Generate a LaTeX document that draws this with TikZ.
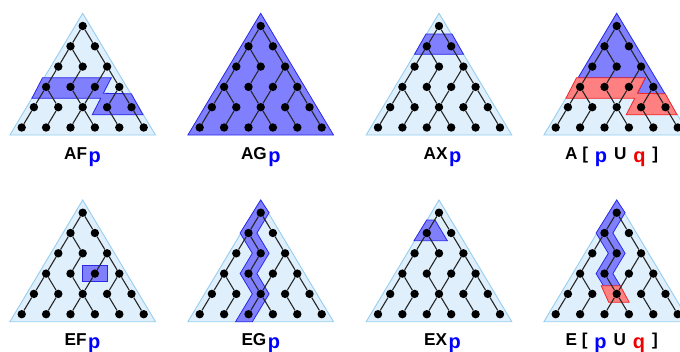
\documentclass[tikz,border=0pt]{standalone}
\usepackage{fontspec}
\setmainfont{Liberation Sans}
\usepackage{xcolor}

\definecolor{trifill}{RGB}{223,240,252}
\definecolor{triline}{RGB}{150,205,240}
\definecolor{pfill}{RGB}{128,128,255}
\definecolor{pline}{RGB}{40,40,230}
\definecolor{qfill}{RGB}{255,128,128}
\definecolor{qline}{RGB}{240,40,40}
\definecolor{pblue}{RGB}{0,0,255}
\definecolor{qred}{RGB}{240,0,0}

\newcommand{\pp}{{\color{pblue}\fontsize{20}{20}\selectfont\raisebox{-2.8pt}{p}}}
\newcommand{\qq}{{\color{qred}\fontsize{20}{20}\selectfont\raisebox{-2.8pt}{q}}}

\newcommand{\ctree}[1]{%
  \foreach \rw in {0,...,5}{
    \foreach \ix in {0,...,\rw}{
      \node[tdot] (#1-\rw-\ix) at ({(2*\ix-\rw)*12.2},{12.7+\rw*20.3}) {};
    }
  }
  \foreach \a/\b in {0-0/1-0,0-0/1-1,1-0/2-0,1-0/2-1,1-1/2-2,2-0/3-0,2-1/3-1,
      2-2/3-2,2-2/3-3,3-0/4-0,3-0/4-1,3-1/4-2,3-2/4-2,3-3/4-3,3-3/4-4,
      4-0/5-0,4-1/5-1,4-2/5-2,4-2/5-3,4-3/5-4,4-4/5-5}{
    \draw[tlink] (#1-\a) -- (#1-\b);
  }
}

\begin{document}
\begin{tikzpicture}[x=1pt, y=-1pt,
  tdot/.style={circle, fill=black, inner sep=0pt, minimum size=8.4pt},
  tlink/.style={line width=1.1pt, black!85},
  tri/.style={fill=trifill, draw=triline, line width=0.9pt},
  preg/.style={fill=pfill, draw=pline, line width=0.8pt},
  qreg/.style={fill=qfill, draw=qline, line width=0.8pt},
  lbl/.style={anchor=base, inner sep=0pt, font=\bfseries\fontsize{17.2}{17.2}\selectfont}]
\useasboundingbox (0,0) rectangle (680,351);
\clip (0,0) rectangle (680,351);

\begin{scope}[shift={(82.7,13.3)}]
\draw[tri] (0,0) -- (-72.8,121.7) -- (72.8,121.7) -- cycle;
\draw[preg] (-40.2,64.5) -- (28.6,64.5) -- (20.6,80) -- (48.6,80.5) -- (60.3,101.5) -- (9.5,101.5) -- (18,85) -- (-50.8,85) -- cycle;
\ctree{af}
\end{scope}

\begin{scope}[shift={(260.7,13.3)}]
\draw[preg] (0,0) -- (-72.8,121.7) -- (72.8,121.7) -- cycle;
\ctree{ag}
\end{scope}

\begin{scope}[shift={(439,13.3)}]
\draw[tri] (0,0) -- (-72.8,121.7) -- (72.8,121.7) -- cycle;
\draw[preg] (-13,20.7) -- (13,20.7) -- (24.5,41) -- (-24.5,41) -- cycle;
\ctree{ax}
\end{scope}

\begin{scope}[shift={(616.7,13.3)}]
\draw[tri] (0,0) -- (-72.8,121.7) -- (72.8,121.7) -- cycle;
\draw[preg] (0,0) -- (48.3,80.5) -- (20.6,80.5) -- (28.6,64.5) -- (-38.6,64.5) -- cycle;
\draw[qreg] (-40.2,64.5) -- (28.6,64.5) -- (20.6,80) -- (48.6,80.5) -- (60.3,101.5) -- (9.5,101.5) -- (18,85) -- (-50.8,85) -- cycle;
\ctree{au}
\end{scope}

\begin{scope}[shift={(82.7,200)}]
\draw[tri] (0,0) -- (-72.8,121.7) -- (72.8,121.7) -- cycle;
\draw[preg] (0,65) rectangle (24.6,81.7);
\ctree{ef}
\end{scope}

\begin{scope}[shift={(260.7,200)}]
\draw[tri] (0,0) -- (-72.8,121.7) -- (72.8,121.7) -- cycle;
\draw[preg] (0,0) -- (8.4,12.7) -- (-3.8,33) -- (8.4,53.3) -- (-3.8,73.6) -- (8.4,93.9) -- (-8.3,121.7) -- (-25.1,121.7) -- (-8.4,93.9) -- (-20.6,73.6) -- (-8.4,53.3) -- (-20.6,33) -- cycle;
\ctree{eg}
\end{scope}

\begin{scope}[shift={(439,200)}]
\draw[tri] (0,0) -- (-72.8,121.7) -- (72.8,121.7) -- cycle;
\draw[preg] (-12.3,20) -- (-4,20) -- (8.3,40.7) -- (-25,40.7) -- cycle;
\ctree{ex}
\end{scope}

\begin{scope}[shift={(616.7,200)}]
\draw[tri] (0,0) -- (-72.8,121.7) -- (72.8,121.7) -- cycle;
\draw[preg] (0,0) -- (8.4,12.7) -- (-3.8,33) -- (8.4,53.3) -- (-3.8,73.6) -- (3.5,85.7) -- (-13.3,85.7) -- (-20.6,73.6) -- (-8.4,53.3) -- (-20.6,33) -- cycle;
\draw[qreg] (-15.5,85.7) -- (3.5,85.7) -- (12.5,102.3) -- (-8,102.3) -- cycle;
\ctree{eu}
\end{scope}

\node[lbl] (af-lab) at (82.5,159.3) {AF\kern1.5pt\pp};
\node[lbl] (ag-lab) at (260.8,159.3) {AG\kern1.5pt\pp};
\node[lbl] (ax-lab) at (442.5,159.3) {AX\kern1.5pt\pp};
\node[lbl] (au-lab) at (611.7,159.3) {A\kern4.7pt[\kern6.9pt\pp\kern6.9pt U\kern6.9pt\qq\kern6.9pt]};
\node[lbl] (ef-lab) at (82.5,345.5) {EF\kern1.5pt\pp};
\node[lbl] (eg-lab) at (260.8,345.5) {EG\kern1.5pt\pp};
\node[lbl] (ex-lab) at (442.5,345.5) {EX\kern1.5pt\pp};
\node[lbl] (eu-lab) at (611.7,345.5) {E\kern4.7pt[\kern6.9pt\pp\kern6.9pt U\kern6.9pt\qq\kern6.9pt]};
\end{tikzpicture}
\end{document}
